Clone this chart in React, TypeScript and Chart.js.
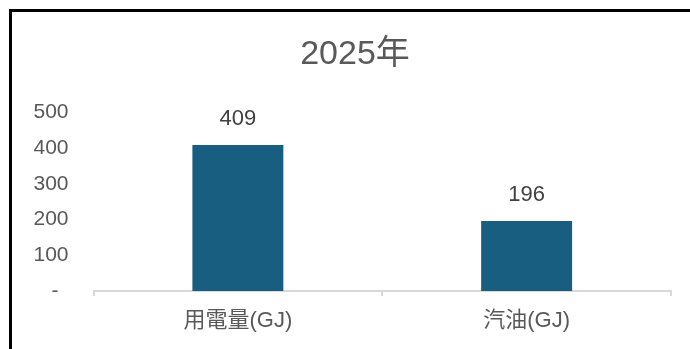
import React, { useEffect, useRef } from "react";
import { Chart, registerables } from "chart.js";

Chart.register(...registerables);

const titleText = "2025年";
const categories = ["用電量(GJ)", "汽油(GJ)"];
const values = [409, 196];
const yTicks = [0, 100, 200, 300, 400, 500];

const FONT = "'Liberation Sans', 'Noto Sans CJK TC', sans-serif";

const dataLabelPlugin = {
  id: "dataLabels",
  afterDatasetsDraw(chart: any) {
    const ctx = chart.ctx;
    const meta = chart.getDatasetMeta(0);
    ctx.save();
    ctx.font = `22px ${FONT}`;
    ctx.fillStyle = "#404040";
    ctx.textAlign = "center";
    ctx.textBaseline = "middle";
    meta.data.forEach((bar: any, i: number) => {
      ctx.fillText(String(values[i]), bar.x, bar.y - 26);
    });
    ctx.restore();
  },
};

const titlePlugin = {
  id: "customTitle",
  afterDraw(chart: any) {
    const ctx = chart.ctx;
    ctx.save();
    ctx.font = `34px ${FONT}`;
    ctx.fillStyle = "#595959";
    ctx.textAlign = "center";
    ctx.textBaseline = "middle";
    ctx.fillText(titleText, 355, 55);
    ctx.restore();
  },
};

export default function App() {
  const ref = useRef<HTMLCanvasElement | null>(null);
  useEffect(() => {
    if (!ref.current) return;
    const chart = new Chart(ref.current, {
      type: "bar",
      data: {
        labels: categories,
        datasets: [
          {
            data: values,
            backgroundColor: "#175e80",
            barPercentage: 0.315,
            categoryPercentage: 1,
          },
        ],
      },
      plugins: [dataLabelPlugin, titlePlugin],
      options: {
        animation: false,
        responsive: false,
        layout: { padding: { left: 0, right: 19, top: 112.5, bottom: 0 } },
        plugins: {
          legend: { display: false },
          tooltip: { enabled: false },
          title: { display: false },
        },
        scales: {
          y: {
            min: 0,
            max: 500,
            afterFit(scale: any) {
              scale.width = 93.5;
            },
            afterBuildTicks(scale: any) {
              scale.ticks = yTicks.map((v) => ({ value: v }));
            },
            grid: { display: false, drawTicks: false },
            border: { display: false },
            ticks: {
              padding: 25,
              color: "#595959",
              font: { family: FONT, size: 21 },
              callback: (v: any) => (Number(v) === 0 ? "- \u2009" : String(v)),
            },
          },
          x: {
            afterFit(scale: any) {
              scale.height = 58;
            },
            grid: {
              display: true,
              drawOnChartArea: false,
              drawTicks: true,
              tickLength: 5,
              color: "#d9d9d9",
              lineWidth: 2,
              offset: true,
            },
            border: { display: true, color: "#d9d9d9", width: 2 },
            ticks: {
              padding: 12,
              color: "#595959",
              font: { family: FONT, size: 22 },
            },
          },
        },
      },
    });
    return () => chart.destroy();
  }, []);

  return (
    <div style={{ position: "absolute", left: 0, top: 0, width: 690, height: 349, background: "#fff", overflow: "hidden" }}>
      <canvas ref={ref} width={690} height={349} style={{ display: "block", position: "absolute", left: 0, top: 0 }} />
      <div
        style={{
          position: "absolute",
          left: 9,
          top: 9,
          width: 690,
          height: 349,
          borderTop: "3px solid #000",
          borderLeft: "3px solid #000",
          pointerEvents: "none",
        }}
      />
    </div>
  );
}
